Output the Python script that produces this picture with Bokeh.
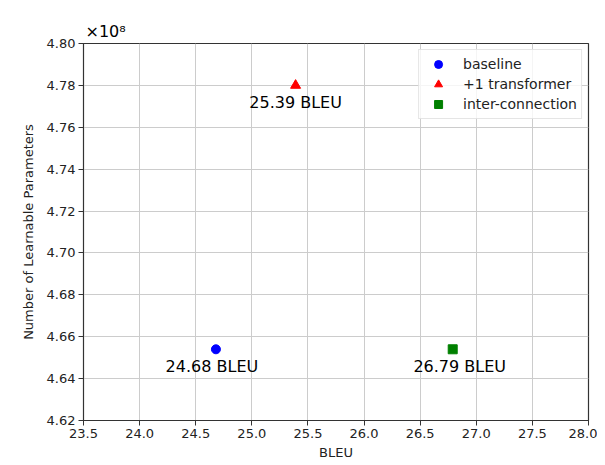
from bokeh.plotting import figure
from bokeh.models import ColumnDataSource, FixedTicker, Range1d, NumeralTickFormatter
from bokeh.embed import file_html
from bokeh.resources import INLINE
from bokeh.core.properties import value

# ---- data ----
models = ["baseline", "+1 transformer", "inter-connection"]
bleu = [24.68, 25.39, 26.79]
params_e8 = [4.654, 4.780, 4.654]          # learnable parameters, x 10^8
point_labels = ["24.68 BLEU", "25.39 BLEU", "26.79 BLEU"]
x_ticks = [23.5, 24.0, 24.5, 25.0, 25.5, 26.0, 26.5, 27.0, 27.5, 28.0]
y_ticks = [4.62, 4.64, 4.66, 4.68, 4.70, 4.72, 4.74, 4.76, 4.78, 4.80]

# ---- styles ----
markers = ["circle", "triangle", "square"]
marker_sizes = [9, 10, 9]
colors = ["#0000ff", "#ff0000", "#008000"]
label_dx = [-4, 0, 7]   # screen-pixel nudges of the annotations
FONT = "DejaVu Sans"

p = figure(width=597, height=464, output_backend="svg", toolbar_location=None,
           x_range=Range1d(x_ticks[0], x_ticks[-1]), y_range=Range1d(y_ticks[0], y_ticks[-1]),
           min_border_left=83, min_border_right=9, min_border_top=43, min_border_bottom=44)

p.title.text = "×10⁸"
p.title.align = "left"
p.title.offset = 2
p.title.standoff = 6
p.title.text_font = FONT
p.title.text_font_size = "16px"
p.title.text_font_style = "normal"
p.title.text_color = "black"

p.background_fill_color = "white"
p.border_fill_color = "white"
p.outline_line_color = "#333333"
p.outline_line_width = 1.2

for ax in (p.xaxis, p.yaxis):
    ax.major_label_text_font = FONT
    ax.major_label_text_font_size = "13px"
    ax.major_label_text_color = "#222222"
    ax.axis_label_text_font = FONT
    ax.axis_label_text_font_size = "13px"
    ax.axis_label_text_font_style = "normal"
    ax.axis_label_text_color = "#222222"
    ax.axis_line_color = "#333333"
    ax.major_tick_line_color = "#333333"
    ax.major_tick_out = 5
    ax.major_tick_in = 0
    ax.minor_tick_line_color = None
    ax.major_label_standoff = 3

p.xaxis.ticker = FixedTicker(ticks=x_ticks)
p.yaxis.ticker = FixedTicker(ticks=y_ticks)
p.xaxis.formatter = NumeralTickFormatter(format="0.0")
p.yaxis.formatter = NumeralTickFormatter(format="0.00")
p.xaxis.axis_label = "BLEU"
p.yaxis.axis_label = "Number of Learnable Parameters"
p.xaxis.axis_label_standoff = 4
p.yaxis.axis_label_standoff = 8

p.xgrid.ticker = FixedTicker(ticks=x_ticks)
p.ygrid.ticker = FixedTicker(ticks=y_ticks)
p.grid.grid_line_color = "#cccccc"
p.grid.grid_line_width = 1

for i in range(len(models)):
    p.scatter(x=[bleu[i]], y=[params_e8[i]], marker=markers[i], size=marker_sizes[i],
              fill_color=colors[i], line_color=colors[i], legend_label=models[i])

src = ColumnDataSource(dict(x=bleu, y=params_e8, t=point_labels, dx=label_dx))
p.text(x="x", y="y", text="t", x_offset="dx", y_offset=17, source=src,
       text_align="center", text_baseline="middle",
       text_font=value(FONT), text_font_size="16px", text_color="black")

lg = p.legend[0]
lg.location = "top_right"
lg.margin = 6
lg.padding = 4
lg.spacing = 0
lg.glyph_width = 30
lg.glyph_height = 20
lg.label_height = 20
lg.label_standoff = 10
lg.label_text_font = FONT
lg.label_text_font_size = "14px"
lg.label_text_color = "#222222"
lg.border_line_color = "#cccccc"
lg.background_fill_alpha = 0.8

open("out.html", "w").write(file_html(p, INLINE))
